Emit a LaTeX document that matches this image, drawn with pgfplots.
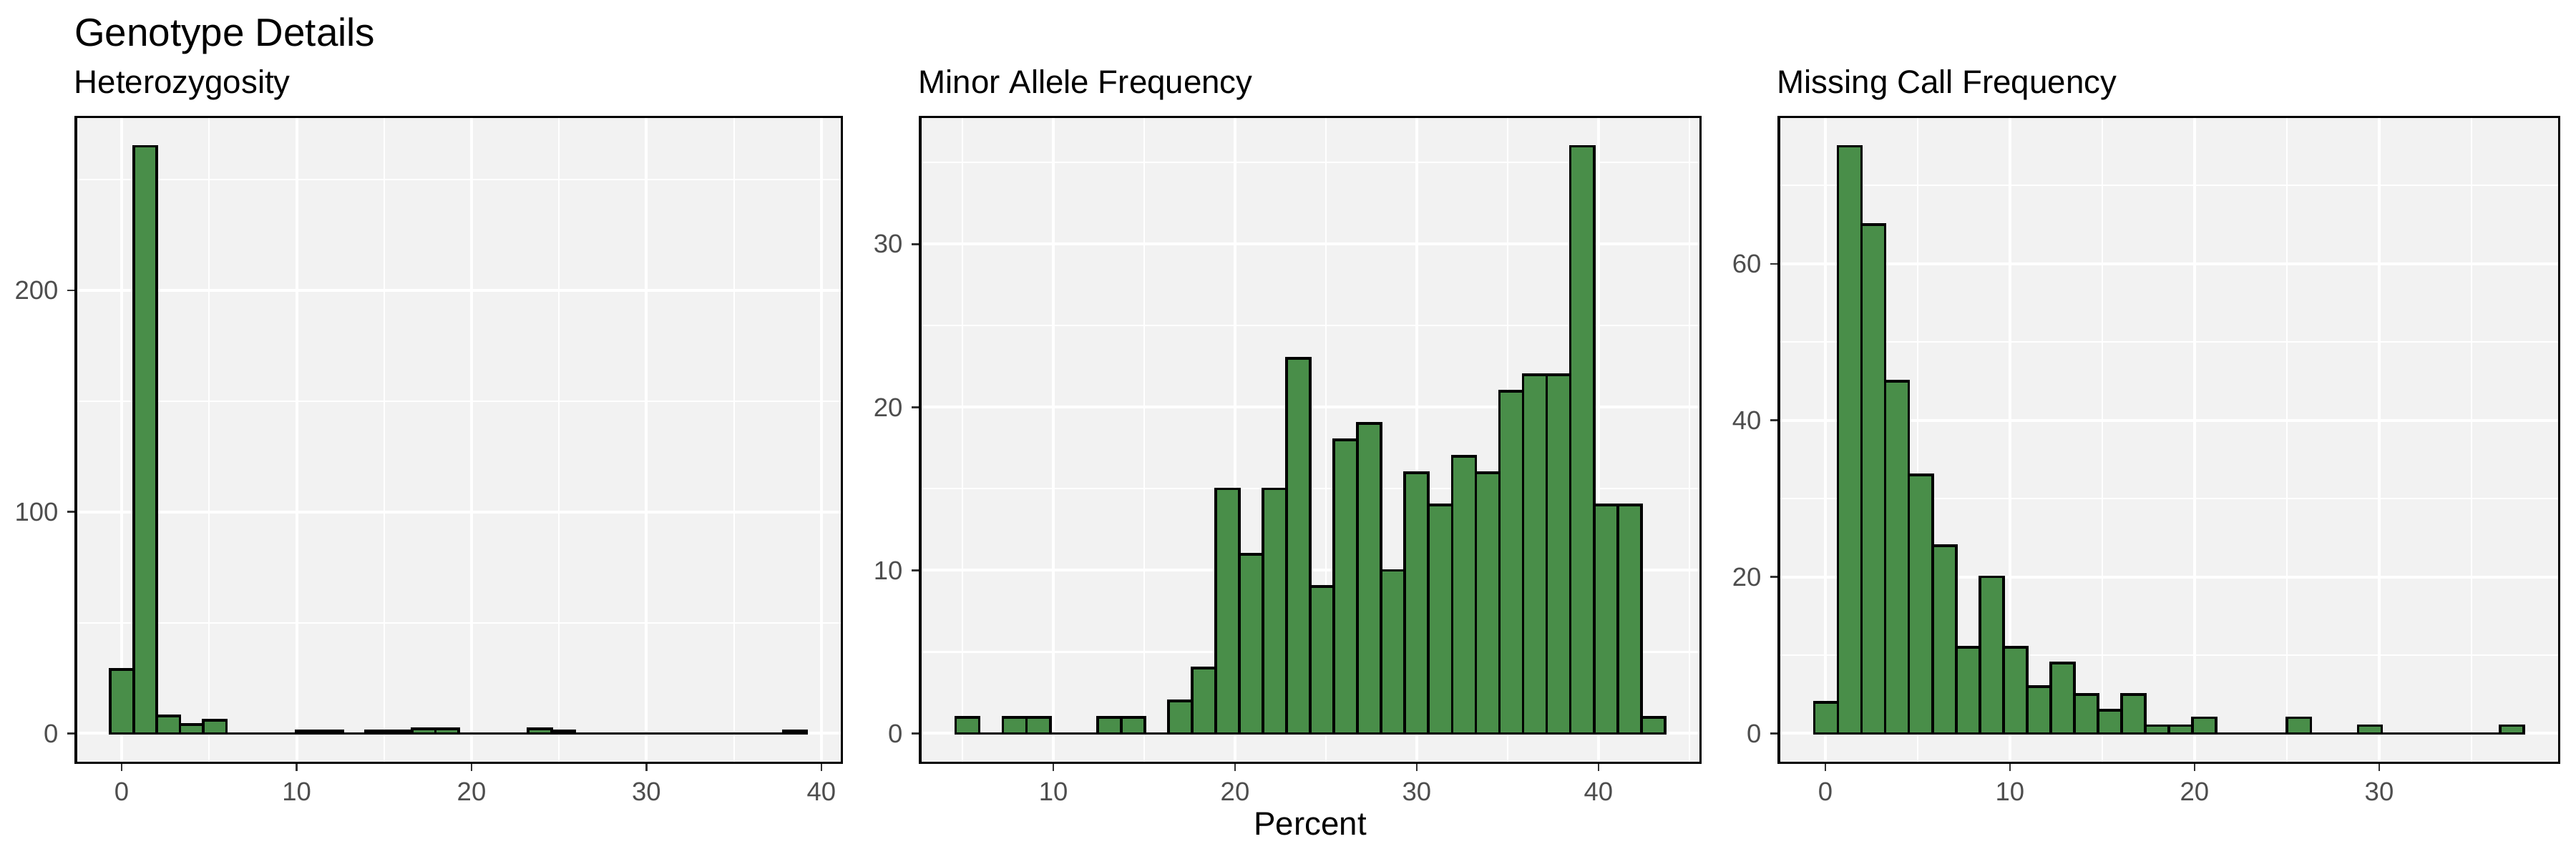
\documentclass[border=0pt]{standalone}
\usepackage{fontspec}
\setmainfont{Liberation Sans}
\usepackage{pgfplots}
\pgfplotsset{compat=1.18}
\definecolor{barfill}{RGB}{73,142,73}
\definecolor{panelbg}{RGB}{242,242,242}
\definecolor{tickcol}{RGB}{51,51,51}
\definecolor{labcol}{RGB}{77,77,77}
\pgfplotsset{gg/.style={
  scale only axis, anchor=south west,
  height=216.7bp,
  axis background/.style={fill=panelbg},
  axis line style={black, line width=0.8bp},
  grid=both,
  major grid style={white, line width=0.95bp},
  minor grid style={white, line width=0.5bp},
  tick align=outside,
  major tick length=2.75bp,
  minor tick length=0pt,
  tick style={tickcol, line width=0.6bp},
  xtick pos=bottom, ytick pos=left,
  ticklabel style={font=\fontsize{8.8}{10}\selectfont, text=labcol, inner sep=0pt},
  /pgf/number format/assume math mode=true,
  xticklabel style={anchor=north, yshift=-3.6bp},
  yticklabel style={anchor=east, xshift=-2.9bp},
  scaled ticks=false,
}}
\pgfplotstableread{
x y
-0.650 29
0.677 265
2.005 8
3.332 4
4.659 6
5.987 0
7.314 0
8.641 0
9.968 1
11.296 1
12.623 0
13.950 1
15.278 1
16.605 2
17.932 2
19.260 0
20.587 0
21.914 0
23.241 2
24.569 1
25.896 0
27.223 0
28.551 0
29.878 0
31.205 0
32.533 0
33.860 0
35.187 0
36.514 0
37.842 1
39.169 0
}\hetero
\pgfplotstableread{
x y
4.620 1
5.921 0
7.223 1
8.524 1
9.825 0
11.127 0
12.428 1
13.729 1
15.030 0
16.332 2
17.633 4
18.934 15
20.236 11
21.537 15
22.838 23
24.140 9
25.441 18
26.742 19
28.043 10
29.345 16
30.646 14
31.947 17
33.249 16
34.550 21
35.851 22
37.153 22
38.454 36
39.755 14
41.056 14
42.358 1
43.659 0
}\maf
\pgfplotstableread{
x y
-0.600 4
0.681 75
1.961 65
3.242 45
4.523 33
5.804 24
7.084 11
8.365 20
9.646 11
10.926 6
12.207 9
13.488 5
14.768 3
16.049 5
17.330 1
18.611 1
19.891 2
21.172 0
22.453 0
23.733 0
25.014 2
26.295 0
27.575 0
28.856 1
30.137 0
31.418 0
32.698 0
33.979 0
35.260 0
36.540 1
37.821 0
}\missing
\begin{document}
\begin{tikzpicture}[x=1bp,y=1bp]
\path[use as bounding box] (0,0) rectangle (864,288);
\node[anchor=base west, inner sep=0pt, font=\fontsize{13.2}{15}\selectfont] at (24.8,272.6) {Genotype Details};
\node[anchor=base west, inner sep=0pt, font=\fontsize{11}{13}\selectfont] at (24.7,256.8) {Heterozygosity};
\node[anchor=base west, inner sep=0pt, font=\fontsize{11}{13}\selectfont] at (307.9,256.8) {Minor Allele Frequency};
\node[anchor=base west, inner sep=0pt, font=\fontsize{11}{13}\selectfont] at (595.9,256.8) {Missing Call Frequency};
\node[anchor=base, inner sep=0pt, font=\fontsize{11}{13}\selectfont] at (439.45,7.8) {Percent};

\begin{axis}[gg, at={(25.4bp,32.04bp)}, width=256.9bp,
  xmin=-2.63, xmax=41.16, ymin=-13.25, ymax=278.25,
  xtick={0,10,20,30,40}, minor xtick={5,15,25,35},
  ytick={0,100,200}, minor ytick={50,150,250}]
\addplot[ybar interval, fill=barfill, draw=black, line width=0.9bp] table[x=x,y=y] {\hetero};
\end{axis}

\begin{axis}[gg, at={(308.6bp,32.04bp)}, width=261.7bp,
  xmin=2.667, xmax=45.61, ymin=-1.8, ymax=37.8,
  xtick={10,20,30,40}, minor xtick={5,15,25,35,45},
  ytick={0,10,20,30}, minor ytick={5,15,25,35}]
\addplot[ybar interval, fill=barfill, draw=black, line width=0.9bp] table[x=x,y=y] {\maf};
\end{axis}

\begin{axis}[gg, at={(596.6bp,32.04bp)}, width=261.7bp,
  xmin=-2.52, xmax=39.74, ymin=-3.75, ymax=78.75,
  xtick={0,10,20,30}, minor xtick={5,15,25,35},
  ytick={0,20,40,60}, minor ytick={10,30,50,70}]
\addplot[ybar interval, fill=barfill, draw=black, line width=0.9bp] table[x=x,y=y] {\missing};
\end{axis}
\end{tikzpicture}
\end{document}
